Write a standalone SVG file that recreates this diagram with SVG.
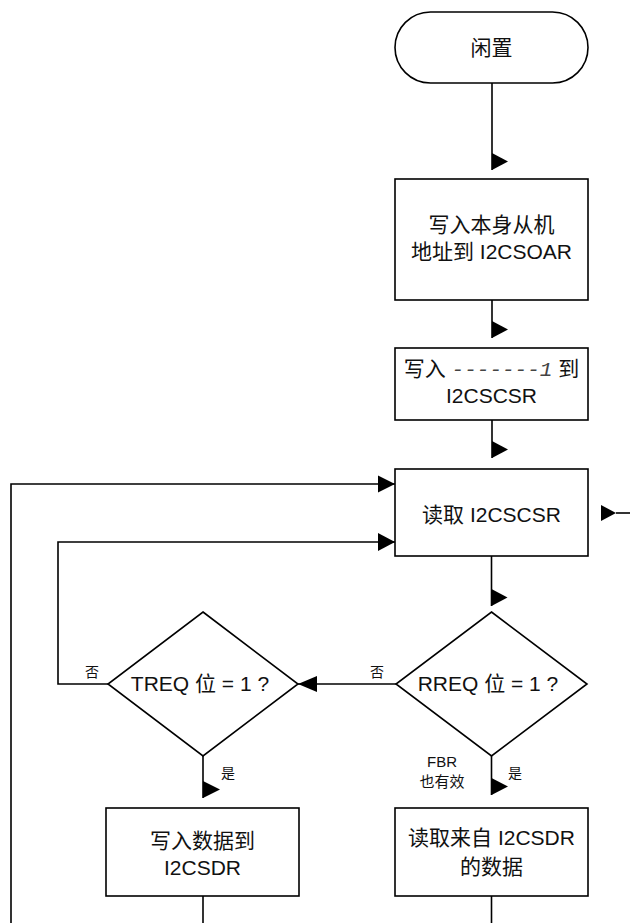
<svg xmlns="http://www.w3.org/2000/svg" width="630" height="923" viewBox="0 0 630 923">
<style>
.s{fill:#fff;stroke:#000;stroke-width:1.6}
.c{fill:none;stroke:#000;stroke-width:1.6}
.a{fill:#000;stroke:none}
.t{font-family:"Liberation Sans","Noto Sans CJK SC",sans-serif;font-size:21px;fill:#111;text-anchor:middle}
.l{font-family:"Liberation Sans","Noto Sans CJK SC",sans-serif;font-size:14px;fill:#111;text-anchor:middle}
.m{font-family:"Liberation Mono",monospace;font-style:italic;fill:#444}
</style>
<rect width="630" height="923" fill="#fff"/>
<g id="connectors">
<path class="c" d="M492 83V170"/>
<polygon class="a" points="492,153 508,161.5 492,170"/>
<path class="c" d="M492 300V338"/>
<polygon class="a" points="492,321 508,329.5 492,338"/>
<path class="c" d="M492 420V458"/>
<polygon class="a" points="492,441 508,449.5 492,458"/>
<path class="c" d="M491.5 556V606"/>
<polygon class="a" points="491.5,589 507.5,597.5 491.5,606"/>
<path class="c" d="M396 684H298"/>
<polygon class="a" points="298,684 317,676 317,692"/>
<path class="c" d="M108 684H58V542H395"/>
<polygon class="a" points="395,542 378,533 378,551"/>
<path class="c" d="M203 756V798"/>
<polygon class="a" points="203,781 220,789.5 203,798"/>
<path class="c" d="M491.5 756V795"/>
<polygon class="a" points="491.5,778 508,786.5 491.5,795"/>
<path class="c" d="M203 896V923"/>
<path class="c" d="M491.5 896V923"/>
<path class="c" d="M11 923V484H395"/>
<polygon class="a" points="395,484 378,475.5 378,492.5"/>
<path class="c" d="M616 513H630"/>
<polygon class="a" points="616,513 601,505 601,521"/>
<text class="l" x="377" y="677">否</text>
<text class="l" x="92" y="677">否</text>
<text class="l" x="228" y="778">是</text>
<text class="l" x="515" y="778">是</text>
<text class="l" x="442" y="767" style="font-size:15px">FBR</text>
<text class="l" x="442" y="787" style="font-size:15px">也有效</text>
</g>
<g id="idle">
<rect class="s" x="395" y="12" width="193" height="71" rx="35.5"/>
<text class="t" x="491.5" y="55">闲置</text>
</g>
<g id="write-own-addr">
<rect class="s" x="395" y="179" width="193" height="121"/>
<text class="t" x="491.5" y="232">写入本身从机</text>
<text class="t" x="491.5" y="259">地址到 I2CSOAR</text>
</g>
<g id="write-cscr">
<rect class="s" x="395" y="348" width="193" height="72"/>
<text class="t" x="491.5" y="376">写入 <tspan class="m">-------1</tspan> 到</text>
<text class="t" x="491.5" y="403">I2CSCSR</text>
</g>
<g id="read-cscr">
<rect class="s" x="395" y="469" width="193" height="87"/>
<text class="t" x="491.5" y="522">读取 I2CSCSR</text>
</g>
<g id="rreq">
<polygon class="s" points="491.5,612 587,684 491.5,756 396,684"/>
<text class="t" x="488" y="691">RREQ 位 = 1 ?</text>
</g>
<g id="treq">
<polygon class="s" points="203,612 298,684 203,756 108,684"/>
<text class="t" x="200" y="691">TREQ 位 = 1 ?</text>
</g>
<g id="write-data">
<rect class="s" x="106" y="808" width="193" height="88"/>
<text class="t" x="202.5" y="848">写入数据到</text>
<text class="t" x="202.5" y="875">I2CSDR</text>
</g>
<g id="read-data">
<rect class="s" x="395" y="808" width="193" height="88"/>
<text class="t" x="491.5" y="845">读取来自 I2CSDR</text>
<text class="t" x="491.5" y="874">的数据</text>
</g>
</svg>
